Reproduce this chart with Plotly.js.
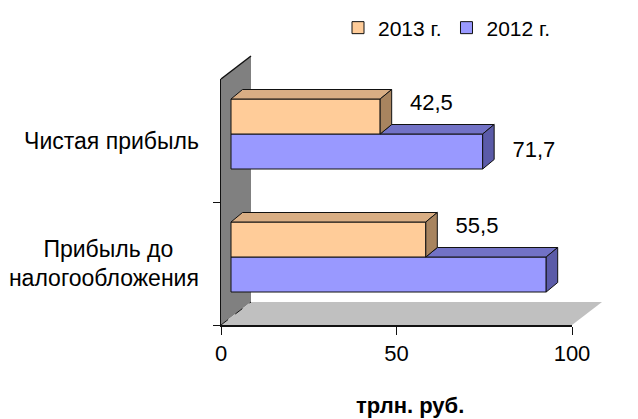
<!DOCTYPE html>
<html>
<head>
<meta charset="utf-8">
<script src="https://cdn.plot.ly/plotly-3.0.1.min.js"></script>
<style>html,body{margin:0;padding:0;background:#fff;}#chart{width:638px;height:419px;}</style>
</head>
<body>
<div id="chart"></div>
<script>
// ---- data ----
const categories = ['Прибыль до налогообложения', 'Чистая прибыль']; // bottom -> top
const categoryLabels = ['Прибыль до\u00a0\u00a0\u00a0\u00a0<br>налогообложения', 'Чистая прибыль'];
const values2013 = [55.5, 42.5];
const values2012 = [89.8, 71.7];
const seriesNames = ['2013 г.', '2012 г.'];
const xTickValues = [0, 50, 100];
const unitLabel = 'трлн. руб.';

// ---- geometry (pixels) ----
const W = 638, H = 419;
const plotL = 221, plotR = 572, plotT = 79, plotB = 325;
const pxX = (plotR - plotL) / (xTickValues[2] - xTickValues[0]);
const pxY = (plotB - plotT) / categories.length;
const barShiftX = 10, barShiftY = 6.5;    // bars sit a little behind the front plane
const depthX = 11.5, depthY = 9.5;         // bar depth
const wallX = 30, wallY = 23;              // wall / floor depth
const barPx = 35;

const font = 'Liberation Sans, Arial, sans-serif';
const col13 = {front: '#FFCC99', top: '#D9AE84', side: '#A8845F'};
const col12 = {front: '#9999FF', top: '#7272C6', side: '#5B5BA8'};

const idx = categories.map((c, i) => i);
const w = barPx / pxY;
const dX = depthX / pxX, dY = depthY / pxY;

function fmt(v) { return v.toFixed(1).replace('.', ','); }

function topFaces(vals, yTop, startVals) {
  const xs = [], ys = [];
  vals.forEach((v, i) => {
    const s = startVals ? Math.min(startVals[i], v) : 0;
    const y = yTop[i];
    xs.push(s, v, v + dX, s + dX, s, null);
    ys.push(y, y, y + dY, y + dY, y, null);
  });
  return {xs, ys};
}
function sideFaces(vals, yBot, yTop) {
  const xs = [], ys = [];
  vals.forEach((v, i) => {
    xs.push(v, v, v + dX, v + dX, v, null);
    ys.push(yBot[i], yTop[i], yTop[i] + dY, yBot[i] + dY, yBot[i], null);
  });
  return {xs, ys};
}

const bot12 = idx.map(i => i - w), top12 = idx.map(i => i);
const bot13 = idx.map(i => i), top13 = idx.map(i => i + w);

const t12 = topFaces(values2012, top12, values2013);
const s12 = sideFaces(values2012, bot12, top12);
const t13 = topFaces(values2013, top13, null);
const s13 = sideFaces(values2013, bot13, top13);

function face(f, color) {
  return {type: 'scatter', mode: 'lines', x: f.xs, y: f.ys, xaxis: 'x2', yaxis: 'y2',
    fill: 'toself', fillcolor: color, line: {color: '#111', width: 1},
    showlegend: false, hoverinfo: 'skip'};
}

const gapUnits = 5.2;
const labelX = values2013.map(v => v + dX + gapUnits).concat(values2012.map(v => v + dX + gapUnits));
const labelY = idx.map(i => i + w / 2 + 0.1).concat(idx.map(i => i - w / 2));
const labelText = values2013.map(fmt).concat(values2012.map(fmt));

const data = [
  {type: 'scatter', x: [], y: [], xaxis: 'x', yaxis: 'y', showlegend: false, hoverinfo: 'skip'},
  {type: 'scatter', x: [], y: [], xaxis: 'x', yaxis: 'y3', showlegend: false, hoverinfo: 'skip'},
  {type: 'bar', orientation: 'h', name: seriesNames[1], x: values2012, y: idx,
   xaxis: 'x2', yaxis: 'y2', width: w, offset: -w, legendrank: 2,
   marker: {color: col12.front, line: {color: '#111', width: 1}}, hoverinfo: 'x+name'},
  face(t12, col12.top), face(s12, col12.side),
  {type: 'bar', orientation: 'h', name: seriesNames[0], x: values2013, y: idx,
   xaxis: 'x2', yaxis: 'y2', width: w, offset: 0, legendrank: 1,
   marker: {color: col13.front, line: {color: '#111', width: 1}}, hoverinfo: 'x+name'},
  face(t13, col13.top), face(s13, col13.side),
  {type: 'scatter', mode: 'text', x: labelX, y: labelY, text: labelText,
   textposition: 'middle right', textfont: {family: font, size: 22, color: '#000'},
   xaxis: 'x2', yaxis: 'y2', cliponaxis: false, showlegend: false, hoverinfo: 'skip'}
];

// wall & floor in paper coords
const px2x = p => (p - plotL) / (plotR - plotL);
const py2y = p => (plotB - p) / (plotB - plotT);
const wx = px2x(plotL + wallX), wyTop = py2y(plotT - wallY), wyBot = py2y(plotB - wallY);
const shapes = [
  {type: 'path', xref: 'paper', yref: 'paper', layer: 'below',
   path: `M0,1 L${wx},${wyTop} L${wx},${wyBot} L0,0 Z`, fillcolor: '#808080', line: {width: 0}},
  {type: 'path', xref: 'paper', yref: 'paper', layer: 'below',
   path: `M0,0 L1,0 L${px2x(plotR + wallX)},${wyBot} L${wx},${wyBot} Z`, fillcolor: '#C0C0C0', line: {width: 0}},
  {type: 'line', xref: 'paper', yref: 'paper', x0: 0, y0: 1, x1: wx, y1: wyTop, line: {color: '#111', width: 1.5}},
  {type: 'line', xref: 'paper', yref: 'paper', x0: 0, y0: 0, x1: wx, y1: wyBot, line: {color: '#111', width: 1, dash: 'dash'}}
];

const layout = {
  width: W, height: H,
  margin: {l: plotL, r: W - plotR, t: plotT, b: H - plotB, pad: 0},
  paper_bgcolor: '#fff', plot_bgcolor: 'rgba(0,0,0,0)',
  separators: ', ',
  font: {family: font, color: '#000', size: 21},
  showlegend: true,
  barmode: 'overlay',
  legend: {orientation: 'h', traceorder: 'normal', xref: 'container', yref: 'container',
    x: 338 / W, xanchor: 'left', y: 1 - 28 / H, yanchor: 'middle',
    font: {family: font, size: 21, color: '#000'}, bgcolor: 'rgba(0,0,0,0)', itemwidth: 30},
  xaxis: {range: [xTickValues[0], xTickValues[2]], tickvals: xTickValues, ticks: 'outside', ticklen: 8,
    tickcolor: '#111', showline: true, linecolor: '#111', linewidth: 1.5, showgrid: false, zeroline: false,
    tickfont: {family: font, size: 22, color: '#000'}, fixedrange: true},
  xaxis2: {overlaying: 'x', range: [xTickValues[0] - barShiftX / pxX, xTickValues[2] - barShiftX / pxX],
    visible: false, fixedrange: true},
  yaxis: {type: 'linear', range: [-0.5, categories.length - 0.5], tickvals: idx, ticktext: categoryLabels,
    ticks: 'outside', ticklen: 16, tickcolor: 'rgba(0,0,0,0)', showticklabels: true,
    showline: true, linecolor: '#111', linewidth: 1.5, showgrid: false,
    zeroline: false, tickfont: {family: font, size: 23, color: '#000'}, fixedrange: true},
  yaxis2: {overlaying: 'y', range: [-0.5 - barShiftY / pxY, categories.length - 0.5 - barShiftY / pxY],
    visible: false, fixedrange: true},
  yaxis3: {overlaying: 'y', range: [-0.5, categories.length - 0.5], tickvals: idx.map(i => i - 0.5),
    ticks: 'outside', ticklen: 7, tickcolor: '#111', showticklabels: false, showline: false, showgrid: false,
    zeroline: false, fixedrange: true},
  shapes: shapes,
  annotations: [{text: '<b>' + unitLabel + '</b>', xref: 'paper', yref: 'paper', x: px2x(410), y: py2y(405),
    xanchor: 'center', yanchor: 'middle',
    showarrow: false, font: {family: font, size: 22, color: '#000'}}]
};

Plotly.newPlot('chart', data, layout, {displayModeBar: false, staticPlot: true});
</script>
</body>
</html>
